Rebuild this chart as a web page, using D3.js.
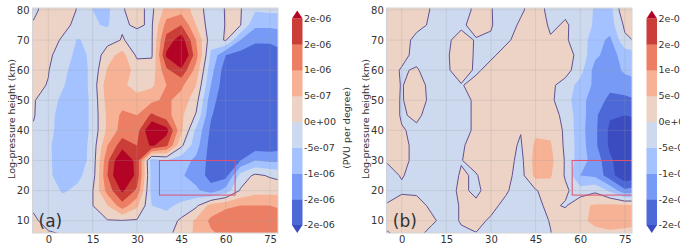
<!DOCTYPE html>
<html>
<head>
<meta charset="utf-8">
<script src="https://cdn.jsdelivr.net/npm/d3@7"></script>
<style>
body { margin: 0; background: #fff; }
svg text { font-family: "DejaVu Sans", sans-serif; fill: #333; }
</style>
</head>
<body>
<script>
// longitude / log-pressure height grid (5 deg x 5 km), values in 1e-6 PVU per degree
var xGrid = [-5, 0, 5, 10, 15, 20, 25, 30, 35, 40, 45, 50, 55, 60, 65, 70, 75, 80];
var yGrid = [80, 75, 70, 65, 60, 55, 50, 45, 40, 35, 30, 25, 20, 15, 10, 5];

var pvA = [
  [-0.1, 0.2, 0.15, -0.02, -0.5, -0.6, -0.02, 0.1, -0.1, 0.7, 0.8, 0.3, -0.3, 0.03, 0.03, -0.45, -0.4, -0.4],
  [0.05, 0.2, 0.1, -0.1, -0.45, -0.55, -0.05, 0.05, -0.05, 1.2, 1.5, 0.5, -0.3, 0.02, 0.02, -0.9, -0.9, -0.85],
  [0.1, 0.15, -0.05, -0.55, -0.3, -0.2, 0.03, -0.15, -0.05, 1.7, 2.3, 1.0, -0.3, 0.05, -1.0, -1.4, -1.4, -1.3],
  [0.1, 0.1, -0.25, -0.65, -0.4, 0.3, 0.7, -0.1, -0.05, 2.1, 2.8, 1.2, -0.6, -1.5, -1.7, -1.85, -1.8, -1.6],
  [0.15, 0.02, -0.35, -0.8, -0.35, 0.55, 0.8, 0.3, 0.2, 1.4, 1.9, 0.8, -0.8, -1.8, -1.85, -1.9, -1.8, -1.6],
  [0.1, -0.02, -0.45, -0.9, -0.3, 0.8, 0.6, 0.3, 0.4, 1.0, 1.1, 0.5, -1.0, -1.85, -1.9, -1.95, -1.85, -1.7],
  [0.03, -0.2, -0.65, -0.9, -0.35, 0.7, 0.8, 0.7, 0.9, 1.1, 0.8, 0.2, -1.3, -1.85, -1.95, -1.95, -1.9, -1.8],
  [0.03, -0.3, -0.75, -0.9, -0.35, 0.6, 1.1, 1.0, 1.6, 1.2, 0.6, -0.05, -1.45, -1.9, -1.95, -1.95, -1.9, -1.8],
  [-0.05, -0.3, -0.8, -0.9, -0.35, 0.6, 1.2, 1.3, 2.6, 2.2, 0.6, -0.6, -1.6, -1.95, -1.95, -1.9, -1.9, -1.8],
  [-0.1, -0.4, -0.85, -0.85, -0.3, 1.0, 1.8, 1.5, 2.1, 1.6, 0.1, -0.8, -1.7, -1.95, -1.9, -1.8, -1.8, -1.7],
  [-0.2, -0.4, -0.8, -0.8, -0.3, 1.4, 2.6, 1.8, -0.8, -0.5, -0.8, -1.1, -1.7, -1.9, -1.5, -1.0, -1.1, -1.1],
  [-0.2, -0.4, -0.75, -0.6, -0.25, 1.5, 2.8, 1.8, -0.7, -0.7, -0.95, -1.2, -1.7, -1.7, -0.3, 0.1, -0.05, -0.2],
  [-0.1, -0.3, -0.55, -0.4, -0.02, 1.2, 2.1, 1.4, -0.7, -0.7, -0.8, -0.9, -1.3, -0.8, 0.05, 0.3, 0.3, 0.3],
  [-0.05, -0.2, -0.3, -0.3, -0.01, 0.5, 1.3, 0.6, -0.5, -0.6, -0.4, -0.1, 0.7, 0.9, 1.0, 1.0, 1.0, 0.95],
  [0.05, -0.1, -0.2, -0.2, -0.15, -0.03, -0.02, -0.05, -0.3, -0.3, 0.1, 0.6, 1.1, 1.3, 1.3, 1.3, 1.2, 1.1],
  [0.1, 0.05, 0.01, -0.15, -0.2, -0.1, -0.1, -0.1, -0.2, -0.1, 0.2, 0.6, 0.9, 1.1, 1.1, 1.1, 1.0, 1.0]
];

var pvB = [
  [0.1, 0.2, 0.15, -0.02, -0.2, -0.2, 0.1, 0.02, -0.2, -0.05, 0.15, -0.1, -0.05, -0.2, -0.55, -0.7, 0.45, 0.3],
  [0.15, 0.15, 0.1, -0.05, -0.15, -0.05, 0.1, 0.02, -0.15, 0.05, 0.2, -0.05, 0.03, -0.1, -0.6, -0.75, 0.1, 0.1],
  [0.15, 0.15, -0.1, -0.15, -0.05, 0.1, -0.02, -0.03, -0.05, 0.1, 0.2, 0.03, 0.05, -0.2, -0.8, -1.1, -0.1, 0.1],
  [0.15, 0.1, -0.1, -0.15, -0.05, 0.2, -0.05, -0.05, 0.1, 0.2, 0.2, 0.2, 0.2, -0.15, -0.9, -1.2, -0.8, -0.7],
  [0.15, -0.03, 0.03, -0.15, -0.05, 0.15, -0.05, 0.1, 0.2, 0.2, 0.2, 0.2, 0.2, -0.3, -1.2, -1.3, -0.9, -0.8],
  [0.2, -0.02, 0.15, -0.1, -0.03, -0.02, 0.1, 0.2, 0.25, 0.2, 0.2, 0.1, -0.2, -0.7, -1.1, -1.4, -1.3, -1.1],
  [0.2, -0.03, 0.2, -0.1, -0.1, -0.1, 0.05, 0.2, 0.3, 0.2, 0.2, 0.1, -0.3, -0.8, -1.3, -1.6, -1.6, -1.5],
  [0.2, -0.03, 0.05, -0.1, -0.15, -0.1, 0.05, 0.2, 0.3, 0.2, 0.4, 0.3, -0.2, -0.75, -1.4, -1.95, -2.0, -1.9],
  [0.2, 0.02, -0.05, -0.1, -0.15, -0.1, 0.05, 0.2, 0.15, 0.02, 0.4, 0.4, -0.1, -0.8, -1.4, -2.1, -2.4, -2.3],
  [0.2, 0.05, -0.05, -0.1, -0.15, -0.05, 0.15, 0.2, 0.15, -0.05, 0.6, 0.55, -0.1, -0.75, -1.4, -2.1, -2.4, -2.3],
  [0.02, 0.05, -0.05, -0.1, -0.1, -0.01, 0.1, 0.2, 0.2, -0.15, 0.7, 0.65, -0.05, -0.8, -1.2, -1.9, -2.4, -2.3],
  [-0.1, 0.02, -0.1, -0.15, -0.1, 0.02, -0.02, 0.15, 0.15, -0.2, 0.65, 0.55, -0.05, -1.0, -1.1, -1.8, -2.4, -2.2],
  [-0.1, -0.05, -0.05, -0.1, -0.1, 0.05, -0.05, 0.1, 0.05, -0.2, -0.05, 0.3, 0.1, -0.3, -0.1, -0.6, -1.4, -1.2],
  [0.02, 0.15, 0.1, -0.05, -0.1, 0.02, 0.05, 0.1, -0.1, -0.2, -0.1, 0.1, -0.05, 0.4, 0.55, 0.6, 0.6, 0.55],
  [0.1, 0.25, 0.2, 0.05, -0.1, 0.02, 0.1, -0.05, -0.15, -0.2, -0.15, 0.02, 0.3, 0.4, 0.6, 0.65, 0.6, 0.55],
  [-0.05, 0.05, 0.05, -0.1, -0.15, -0.05, -0.03, -0.1, -0.15, -0.15, -0.1, -0.02, 0.2, 0.3, 0.35, 0.4, 0.4, 0.4]
];

var levels = [-2, -1.5, -1, -0.5, 0, 0.5, 1, 1.5, 2];
var levelLabels = ["-2e-06", "-2e-06", "-1e-06", "-5e-07", "0e+00", "5e-07", "1e-06", "2e-06", "2e-06"];
// coolwarm: under, 8 bands, over
var bandColors = ["#3b4cc0", "#4d68d7", "#779af7", "#a3c2ff", "#ccd9ee",
                  "#ecd3c5", "#f7b194", "#ec7f63", "#cb3e38", "#b40426"];
var xTicks = [0, 15, 30, 45, 60, 75];
var yTicks = [10, 20, 30, 40, 50, 60, 70, 80];
var boxA = [37.6, 63.2, 18.5, 30];
var boxB = [57.3, 80, 18.5, 30];

var W = 680, H = 248;
var svg = d3.select("body").append("svg").attr("width", W).attr("height", H);

function panel(id, vals, box, plot, xdom, label, cbarX, showCbarTitle) {
  var xs = d3.scaleLinear().domain(xdom).range([plot.left, plot.right]);
  var ys = d3.scaleLinear().domain([5.9, 80.66]).range([plot.bottom, plot.top]);
  var g = svg.append("g");

  g.append("clipPath").attr("id", "clip" + id)
    .append("rect")
    .attr("x", plot.left).attr("y", plot.top)
    .attr("width", plot.right - plot.left).attr("height", plot.bottom - plot.top);

  // pad the grid by one row/col on every side so the outer rings fall outside the clip
  var nx = xGrid.length, ny = yGrid.length, gw = nx + 2, gh = ny + 2;
  var flat = [];
  for (var j = 0; j < gh; j++) {
    for (var i = 0; i < gw; i++) {
      var jj = Math.min(ny - 1, Math.max(0, j - 1));
      var ii = Math.min(nx - 1, Math.max(0, i - 1));
      flat.push(vals[jj][ii]);
    }
  }
  var dx = xGrid[1] - xGrid[0], dy = yGrid[0] - yGrid[1];
  var proj = d3.geoTransform({
    point: function(cx, cy) {
      this.stream.point(xs(xGrid[0] + (cx - 1.5) * dx), ys(yGrid[0] - (cy - 1.5) * dy));
    }
  });
  var path = d3.geoPath(proj);
  var contours = d3.contours().size([gw, gh]).thresholds(levels)(flat);

  var body = g.append("g").attr("clip-path", "url(#clip" + id + ")");
  body.append("rect")
    .attr("x", plot.left).attr("y", plot.top)
    .attr("width", plot.right - plot.left).attr("height", plot.bottom - plot.top)
    .attr("fill", bandColors[0]);
  body.selectAll("path.band")
    .data(contours)
    .enter().append("path")
    .attr("class", "band")
    .attr("d", path)
    .attr("fill", function(d, i) { return bandColors[i + 1]; });

  // zero contour
  body.append("path")
    .attr("d", path(contours[levels.indexOf(0)]))
    .attr("fill", "none")
    .attr("stroke", "#62508f")
    .attr("stroke-width", 1);

  // grid lines
  body.selectAll("line.gx").data(xTicks).enter().append("line")
    .attr("x1", function(d) { return xs(d); }).attr("x2", function(d) { return xs(d); })
    .attr("y1", plot.top).attr("y2", plot.bottom)
    .attr("stroke", "#a0a0a0").attr("stroke-opacity", 0.3).attr("stroke-width", 0.8);
  body.selectAll("line.gy").data(yTicks).enter().append("line")
    .attr("y1", function(d) { return ys(d); }).attr("y2", function(d) { return ys(d); })
    .attr("x1", plot.left).attr("x2", plot.right)
    .attr("stroke", "#a0a0a0").attr("stroke-opacity", 0.3).attr("stroke-width", 0.8);

  // box
  body.append("rect")
    .attr("x", xs(box[0])).attr("y", ys(box[3]))
    .attr("width", xs(box[1]) - xs(box[0])).attr("height", ys(box[2]) - ys(box[3]))
    .attr("fill", "none").attr("stroke", "#e0526e").attr("stroke-width", 1);

  g.append("rect")
    .attr("x", plot.left).attr("y", plot.top)
    .attr("width", plot.right - plot.left).attr("height", plot.bottom - plot.top)
    .attr("fill", "none").attr("stroke", "#d4d4d4").attr("stroke-width", 1);

  // axes
  var ax = g.append("g").attr("transform", "translate(0," + plot.bottom + ")")
    .call(d3.axisBottom(xs).tickValues(xTicks).tickSize(0).tickPadding(3));
  var ay = g.append("g").attr("transform", "translate(" + plot.left + ",0)")
    .call(d3.axisLeft(ys).tickValues(yTicks).tickSize(0).tickPadding(3));
  [ax, ay].forEach(function(a) {
    a.select(".domain").remove();
    a.selectAll("text").style("font-size", "10px").attr("fill", "#333")
      .style("font-family", "DejaVu Sans, sans-serif");
  });

  g.append("text")
    .attr("transform", "translate(" + (plot.left - 21) + ",119) rotate(-90)")
    .attr("text-anchor", "middle")
    .attr("dominant-baseline", "central")
    .style("font-size", "9.5px")
    .text("Log-pressure height (km)");

  g.append("text")
    .attr("x", plot.left + 6).attr("y", 227)
    .style("font-size", "17px").attr("fill", "#222")
    .text(label);

  // colorbar
  var cy = d3.scaleLinear().domain([-2, 2]).range([225, 18.5]);
  var cw = 10.5, tri = 8;
  var cb = g.append("g");
  cb.selectAll("rect").data(d3.range(levels.length - 1)).enter().append("rect")
    .attr("x", cbarX).attr("width", cw)
    .attr("y", function(i) { return cy(levels[i + 1]); })
    .attr("height", function(i) { return cy(levels[i]) - cy(levels[i + 1]) + 0.3; })
    .attr("fill", function(i) { return bandColors[i + 1]; });
  cb.append("path")
    .attr("d", "M" + cbarX + "," + cy(2) + "L" + (cbarX + cw / 2) + "," + (cy(2) - tri) + "L" + (cbarX + cw) + "," + cy(2) + "Z")
    .attr("fill", bandColors[9]);
  cb.append("path")
    .attr("d", "M" + cbarX + "," + cy(-2) + "L" + (cbarX + cw / 2) + "," + (cy(-2) + tri) + "L" + (cbarX + cw) + "," + cy(-2) + "Z")
    .attr("fill", bandColors[0]);
  cb.selectAll("text").data(levels).enter().append("text")
    .attr("x", cbarX + cw + 1.5)
    .attr("y", function(d) { return cy(d); })
    .attr("dy", "0.35em")
    .style("font-size", "9.5px")
    .text(function(d, i) { return levelLabels[i]; });
  if (showCbarTitle) {
    cb.append("text")
      .attr("transform", "translate(" + (cbarX + 54) + ",128) rotate(-90)")
      .attr("text-anchor", "middle")
      .attr("dominant-baseline", "central")
      .style("font-size", "9.5px")
      .text("(PVU per degree)");
  }
}

panel("a", pvA, boxA, {left: 32.5, right: 278, top: 8, bottom: 233}, [-5.35, 77.7], "(a)", 292, true);
panel("b", pvB, boxB, {left: 386.8, right: 632, top: 8, bottom: 233}, [-5, 77.4], "(b)", 646.5, false);
</script>
</body>
</html>
